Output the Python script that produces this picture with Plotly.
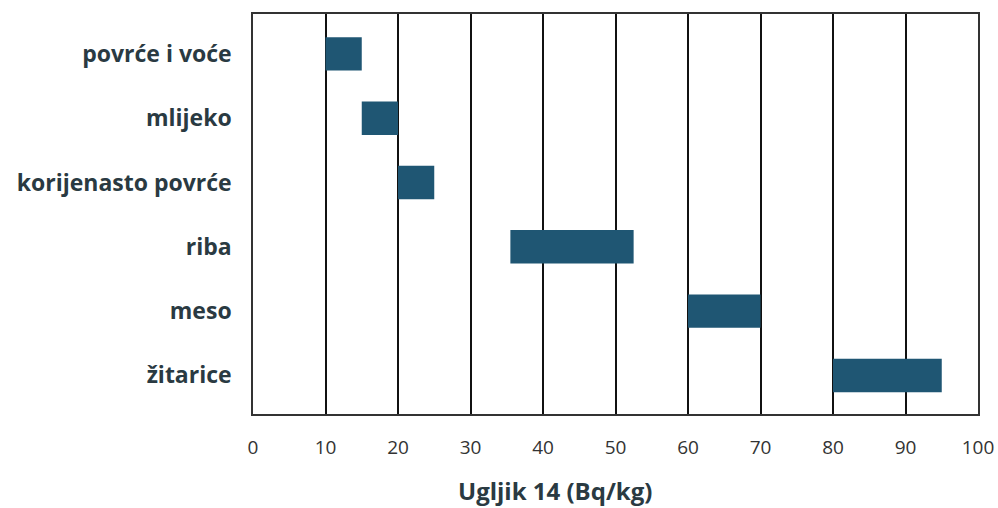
import plotly.graph_objects as go

categories = ["povrće i voće", "mlijeko", "korijenasto povrće", "riba", "meso", "žitarice"]
range_start = [10, 15, 20, 35.5, 60, 80]
range_end = [15, 20, 25, 52.5, 70, 95]
x_ticks = [0, 10, 20, 30, 40, 50, 60, 70, 80, 90, 100]
x_title = "Ugljik 14 (Bq/kg)"

widths = [e - s for s, e in zip(range_start, range_end)]
ypos = list(range(len(categories)))

fig = go.Figure()
fig.add_trace(go.Bar(
    y=ypos, x=widths, base=range_start, orientation="h",
    width=0.52,
    marker=dict(color="#1f5673", line=dict(width=0)),
    showlegend=False,
))

fig.update_layout(
    width=998, height=508,
    margin=dict(l=253, r=20, t=14, b=94),
    paper_bgcolor="white", plot_bgcolor="white",
    xaxis=dict(
        range=[0, 100], tickvals=x_ticks, automargin=False,
        showgrid=True, gridcolor="#111111", gridwidth=1.5,
        showline=True, linecolor="#333333", linewidth=1.5, mirror=True,
        ticks="", zeroline=False,
        tickfont=dict(family="Open Sans", size=19, color="#333333"),
        ticklabelstandoff=15,
    ),
    yaxis=dict(
        range=[5.6, -0.62], tickvals=ypos, ticktext=categories, automargin=False,
        showgrid=False, showline=True, linecolor="#333333", linewidth=1.5, mirror=True,
        ticks="", zeroline=False,
        tickfont=dict(family="Open Sans", size=23, color="#2a3a42", weight="bold"),
        ticklabelstandoff=15,
    ),
    annotations=[dict(
        text=x_title, xref="paper", yref="paper",
        x=(555 - 253) / (978 - 253), y=-0.19, xanchor="center", yanchor="middle",
        showarrow=False,
        font=dict(family="Open Sans", size=24, color="#2a3a42", weight="bold"),
    )],
)

fig.write_html("out.html", post_script="document.body.style.margin='0';",
               config={"displayModeBar": False})
